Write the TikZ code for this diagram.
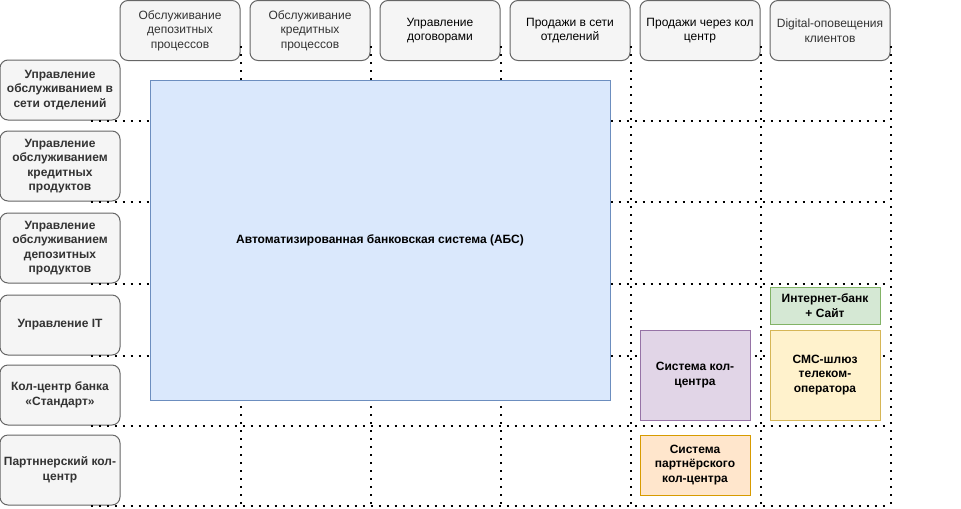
\documentclass[tikz,border=0pt]{standalone}
\usepackage{fontspec}
\setmainfont{Liberation Sans}
\usetikzlibrary{calc}

\definecolor{hdrfill}{HTML}{F5F5F5}
\definecolor{hdrline}{HTML}{666666}
\definecolor{hdrtext}{HTML}{333333}
\definecolor{absfill}{HTML}{DAE8FC}
\definecolor{absline}{HTML}{6C8EBF}
\definecolor{kcfill}{HTML}{E1D5E7}
\definecolor{kcline}{HTML}{9673A6}
\definecolor{ibfill}{HTML}{D5E8D4}
\definecolor{ibline}{HTML}{82B366}
\definecolor{smsfill}{HTML}{FFF2CC}
\definecolor{smsline}{HTML}{D6B656}
\definecolor{pkcfill}{HTML}{FFE6CC}
\definecolor{pkcline}{HTML}{D79B00}

\tikzset{
  txt/.style={font=\fontsize{9}{10.9}\selectfont, align=center, inner sep=0pt, line width=0.75pt},
  hdr/.style={txt, draw=hdrline, fill=hdrfill, text=hdrtext, rounded corners=6pt,
    minimum width=90pt, minimum height=45pt},
  rowhdr/.style={hdr, font=\fontsize{9}{10.9}\selectfont\bfseries},
  sysbox/.style={txt, font=\fontsize{9}{10.9}\selectfont\bfseries, text=black},
  grid/.style={line width=1.5pt, dash pattern=on 1.5pt off 4.5pt}
}

\begin{document}
\begin{tikzpicture}[x=0.75pt,y=-0.75pt]
  \path[use as bounding box] (0,0) rectangle (961,508);
  % column headers
  \node[hdr] (h1) at (180,30.5) {Обслуживание\\депозитных\\процессов};
  \node[hdr] (h2) at (310,30.5) {Обслуживание\\кредитных\\процессов};
  \node[hdr, text=black] (h3) at (440,30.5) {Управление\\договорами};
  \node[hdr, text=black] (h4) at (570,30.5) {Продажи в сети\\отделений};
  \node[hdr, text=black] (h5) at (700,30.5) {Продажи через кол\\центр};
  \node[hdr] (h6) at (830,30.5) {Digital-оповещения\\клиентов};
  % row headers
  \node[rowhdr] (r1) at (60,90) {Управление\\обслуживанием в\\сети отделений};
  \node[rowhdr, minimum height=52.5pt] (r2) at (60,166) {Управление\\обслуживанием\\кредитных\\продуктов};
  \node[rowhdr, minimum height=52.5pt] (r3) at (60,248) {Управление\\обслуживанием\\депозитных\\продуктов};
  \node[rowhdr] (r4) at (60,325) {Управление IT};
  \node[rowhdr] (r5) at (60,395) {Кол-центр банка\\«Стандарт»};
  \node[rowhdr, minimum height=52.5pt] (r6) at (60,470) {Партннерский кол-\\центр};
  % grid
  \foreach \c in {h1,h2,h3,h4,h5,h6}
    \draw[grid] ($(\c.south east)+(0,-15)$) -- (\c.south east |- r6.south);
  \foreach \r in {r1,r2,r3,r4,r5,r6}
    \draw[grid] ($(\r.south east)+(-30,0)$) -- (h6.south east |- \r.south);
  % systems
  \node[sysbox, draw=absline, fill=absfill, minimum width=345pt, minimum height=240pt]
    (abs) at (380,240) {Автоматизированная банковская система (АБС)};
  \node[sysbox, draw=kcline, fill=kcfill, minimum width=82.5pt, minimum height=67.5pt]
    (kc) at (695,375) {Система кол-\\центра};
  \node[sysbox, draw=ibline, fill=ibfill, minimum width=82.5pt, minimum height=27.75pt]
    (ib) at (825,305.5) {Интернет-банк\\+ Сайт};
  \node[sysbox, draw=smsline, fill=smsfill, minimum width=82.5pt, minimum height=67.5pt]
    (sms) at (825,375) {СМС-шлюз\\телеком-\\оператора};
  \node[sysbox, draw=pkcline, fill=pkcfill, minimum width=82.5pt, minimum height=45pt]
    (pkc) at (695,465) {Система\\партнёрского\\кол-центра};
\end{tikzpicture}
\end{document}
